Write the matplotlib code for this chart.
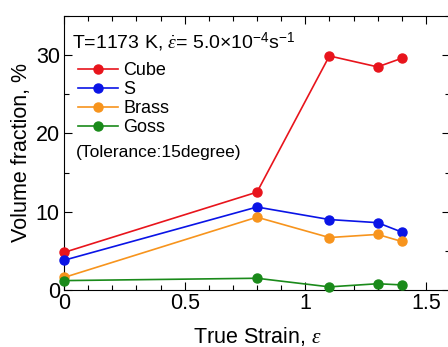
import matplotlib
matplotlib.use("Agg")
import matplotlib.pyplot as plt
from matplotlib.ticker import MultipleLocator

plt.rcParams['font.family'] = ['Liberation Sans', 'DejaVu Sans']
plt.rcParams['mathtext.fontset'] = 'custom'
plt.rcParams['mathtext.rm'] = 'Liberation Sans'
plt.rcParams['mathtext.it'] = 'Liberation Serif:italic'

strain = [0, 0.8, 1.1, 1.3, 1.4]
cube = [4.8, 12.5, 29.9, 28.5, 29.6]
s_comp = [3.8, 10.6, 9.0, 8.6, 7.4]
brass = [1.6, 9.3, 6.7, 7.1, 6.2]
goss = [1.2, 1.5, 0.4, 0.8, 0.65]

names = ['Cube', 'S', 'Brass', 'Goss']
colors = ['#e8141c', '#0a14e6', '#f7941d', '#1a8a1a']

fig = plt.figure(figsize=(4.48, 3.47), dpi=100)
ax = fig.add_axes([64 / 448, 1 - 290 / 347, 386 / 448, 274 / 347])

for vals, name, c in zip([cube, s_comp, brass, goss], names, colors):
    ax.plot(strain, vals, '-o', color=c, lw=1.2, ms=6.5, label=name, clip_on=False, zorder=3)

ax.set_xlim(0, 1.6)
ax.set_ylim(0, 35)
ax.xaxis.set_minor_locator(MultipleLocator(0.1))
ax.yaxis.set_major_locator(MultipleLocator(10))
ax.yaxis.set_minor_locator(MultipleLocator(5))
ax.set_xticks([0, 0.5, 1, 1.5])
ax.set_xticklabels(['0', '0.5', '1', '1.5'])
ax.tick_params(which='both', direction='in', top=True, right=True, labelsize=15.5)
ax.tick_params(axis='x', pad=2)
ax.tick_params(axis='y', pad=3)
ax.tick_params(which='major', length=6, width=0.8)
ax.tick_params(which='minor', length=3.5, width=0.8)
for sp in ax.spines.values():
    sp.set_linewidth(0.8)

ax.set_xlabel(r'True Strain, $\mathit{\varepsilon}$', fontsize=15.5, labelpad=8)
ax.set_ylabel('Volume fraction, %', fontsize=15.5, labelpad=3)

ax.text(0.02, 0.905, r'T=1173 K, $\dot{\mathit{\varepsilon}}$= 5.0$\times$10$^{-4}$s$^{-1}$',
        transform=ax.transAxes, fontsize=14, va='center', ha='left')
ax.legend(loc='upper left', bbox_to_anchor=(0.036, 0.832), frameon=False, fontsize=13,
          handlelength=2.2, handletextpad=0.3, labelspacing=0.11, borderaxespad=0,
          borderpad=0)
ax.text(0.03, 0.50, '(Tolerance:15degree)', transform=ax.transAxes, fontsize=12.5,
        va='center', ha='left')

fig.savefig('out.png', dpi=100)
